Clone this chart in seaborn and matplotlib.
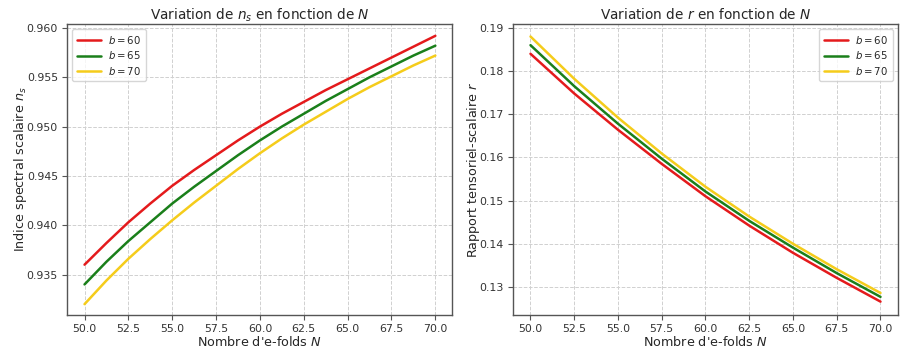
import numpy as np
import pandas as pd
import seaborn as sns
import matplotlib
matplotlib.use("Agg")
import matplotlib.pyplot as plt

b_labels = ["$b = 60$", "$b = 65$", "$b = 70$"]

N_ns = [50.0, 51.25, 52.5, 53.75, 55.0, 56.25, 57.5, 58.75, 60.0,
        61.25, 62.5, 63.75, 65.0, 66.25, 67.5, 68.75, 70.0]
ns_b60 = [0.9360, 0.9382, 0.9403, 0.9422, 0.9440, 0.9456, 0.9471, 0.9486, 0.9500,
          0.9513, 0.9525, 0.9537, 0.9548, 0.9559, 0.9570, 0.9581, 0.9592]
ns_b65 = [0.9340, 0.9363, 0.9384, 0.9403, 0.9422, 0.9439, 0.9455, 0.9471, 0.9486,
          0.9500, 0.9513, 0.9526, 0.9538, 0.9550, 0.9561, 0.9572, 0.9582]
ns_b70 = [0.9320, 0.9344, 0.9366, 0.9386, 0.9405, 0.9423, 0.9440, 0.9457, 0.9473,
          0.9488, 0.9502, 0.9515, 0.9528, 0.9540, 0.9551, 0.9562, 0.9572]

N_r = [50.0, 52.5, 55.0, 57.5, 60.0, 62.5, 65.0, 67.5, 70.0]
r_b60 = [0.1840, 0.1748, 0.1664, 0.1585, 0.1510, 0.1442, 0.1379, 0.1321, 0.1266]
r_b65 = [0.1860, 0.1765, 0.1678, 0.1597, 0.1521, 0.1453, 0.1391, 0.1332, 0.1277]
r_b70 = [0.1880, 0.1782, 0.1692, 0.1609, 0.1532, 0.1463, 0.1400, 0.1341, 0.1286]

x_ticks = [50.0, 52.5, 55.0, 57.5, 60.0, 62.5, 65.0, 67.5, 70.0]
ns_ticks = [0.935, 0.940, 0.945, 0.950, 0.955, 0.960]
r_ticks = [0.13, 0.14, 0.15, 0.16, 0.17, 0.18, 0.19]

colors = ["#e41a1c", "#1a7f1a", "#f5cc1b"]

def make_df(xs, series):
    rows = []
    for lab, vals in zip(b_labels, series):
        for n, v in zip(xs, vals):
            rows.append({"N": n, "val": v, "b": lab})
    return pd.DataFrame(rows)

df_ns = make_df(N_ns, [ns_b60, ns_b65, ns_b70])
df_r = make_df(N_r, [r_b60, r_b65, r_b70])

sns.set_style("ticks")
plt.rcParams["font.family"] = ["DejaVu Sans"]
plt.rcParams["mathtext.fontset"] = "dejavusans"

W, H = 902, 352
fig = plt.figure(figsize=(W / 100, H / 100), dpi=100)
ax1 = fig.add_axes([67 / W, 1 - 315 / H, (452 - 67) / W, (315 - 24) / H])
ax2 = fig.add_axes([513 / W, 1 - 315 / H, (898 - 513) / W, (315 - 24) / H])

for ax, df in [(ax1, df_ns), (ax2, df_r)]:
    sns.lineplot(data=df, x="N", y="val", hue="b", palette=colors, linewidth=1.8,
                 ax=ax, estimator=None, sort=True)
    ax.grid(True, linestyle="--", color="#d0d0d0", linewidth=0.7)
    for s in ax.spines.values():
        s.set_color("#555555")
        s.set_linewidth(1.0)
    ax.tick_params(labelsize=7.9, labelcolor="#333333", color="#555555", length=3.5, pad=3)
    ax.set_xticks(x_ticks)
    ax.set_xticklabels([f"{v:.1f}" for v in x_ticks])
    ax.set_xlabel("Nombre d'e-folds $N$", fontsize=9.2, labelpad=1)

leg_kw = dict(fontsize=7.3, title=None, handlelength=2.4, labelspacing=0.35,
              borderpad=0.45, handletextpad=0.7)

ax1.set_ylabel("Indice spectral scalaire $n_s$", fontsize=9.2, labelpad=-1.5)
ax1.set_title("Variation de $n_s$ en fonction de $N$", fontsize=9.8, pad=3.5)
ax1.set_yticks(ns_ticks)
ax1.set_yticklabels([f"{v:.3f}" for v in ns_ticks])
ax1.set_ylim(0.9309, 0.9604)
ax1.set_xlim(49.0, 70.95)
ax1.legend(loc="upper left", **leg_kw)

ax2.set_ylabel("Rapport tensoriel-scalaire $r$", fontsize=9.2, labelpad=-1.5)
ax2.set_title("Variation de $r$ en fonction de $N$", fontsize=9.8, pad=3.5)
ax2.set_yticks(r_ticks)
ax2.set_yticklabels([f"{v:.2f}" for v in r_ticks])
ax2.set_ylim(0.1235, 0.1909)
ax2.set_xlim(49.0, 71.0)
ax2.legend(loc="upper right", **leg_kw)

fig.savefig("out.png", dpi=100)
